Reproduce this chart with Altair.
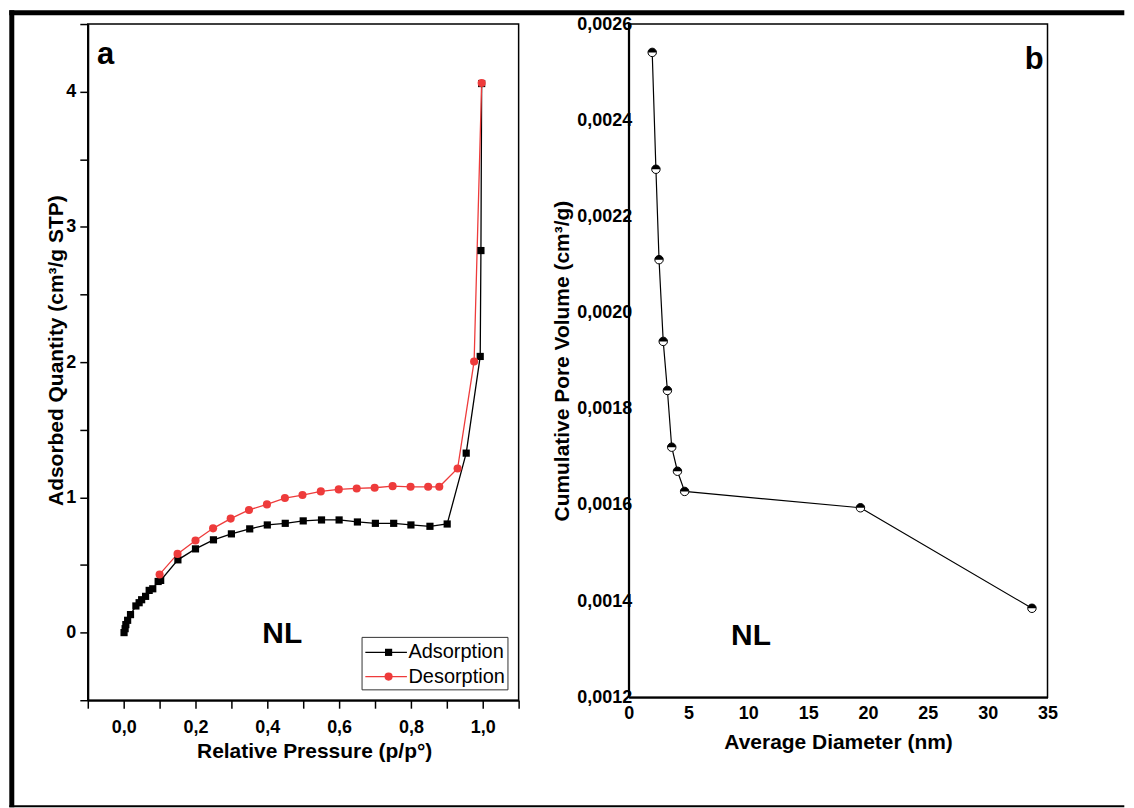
import altair as alt
import pandas as pd

FONT = "Liberation Sans"

# ---------------- Panel a : N2 isotherm ----------------
ads_x = [0.001, 0.004, 0.006, 0.011, 0.019, 0.034, 0.043, 0.050, 0.061, 0.071, 0.081, 0.096, 0.103,
         0.151, 0.200, 0.250, 0.300, 0.351, 0.400, 0.450, 0.500, 0.551, 0.600, 0.651, 0.701, 0.752,
         0.800, 0.853, 0.901, 0.954, 0.993, 0.995, 0.997]
ads_y = [0.000, 0.029, 0.059, 0.091, 0.133, 0.197, 0.221, 0.243, 0.268, 0.312, 0.324, 0.378, 0.386,
         0.538, 0.619, 0.686, 0.730, 0.767, 0.796, 0.808, 0.826, 0.833, 0.833, 0.818, 0.808, 0.808,
         0.796, 0.786, 0.803, 1.327, 2.042, 2.825, 4.060]
des_x = [0.100, 0.150, 0.200, 0.249, 0.298, 0.349, 0.399, 0.449, 0.498, 0.549, 0.599, 0.649, 0.699,
         0.749, 0.799, 0.848, 0.879, 0.930, 0.976, 0.997]
des_y = [0.430, 0.582, 0.681, 0.771, 0.843, 0.907, 0.948, 0.995, 1.017, 1.044, 1.059, 1.066, 1.071,
         1.083, 1.078, 1.078, 1.078, 1.213, 2.005, 4.064]
series_names = ["Adsorption", "Desorption"]
series_colors = ["#000000", "#EE3B3B"]
series_shapes = ["square", "circle"]
series_sizes = [52, 66]

x_ticks_a = [-0.1, 0.0, 0.1, 0.2, 0.3, 0.4, 0.5, 0.6, 0.7, 0.8, 0.9, 1.0, 1.1]
y_ticks_a = [-0.5, 0, 0.5, 1, 1.5, 2, 2.5, 3, 3.5, 4, 4.5]

# ---------------- Panel b : cumulative pore volume ----------------
diam = [1.97, 2.28, 2.54, 2.89, 3.24, 3.60, 4.08, 4.68, 19.37, 33.7]
vol = [0.002541, 0.002298, 0.002110, 0.001940, 0.001838, 0.001720, 0.001670, 0.001628, 0.001594, 0.001385]
x_ticks_b = [0, 5, 10, 15, 20, 25, 30, 35]
y_ticks_b = [0.0012, 0.0014, 0.0016, 0.0018, 0.0020, 0.0022, 0.0024, 0.0026]

W_A, H_A = 432, 678
W_B, H_B = 420, 675

iso = pd.DataFrame({
    "p": ads_x + des_x,
    "q": ads_y + des_y,
    "series": [series_names[0]] * len(ads_x) + [series_names[1]] * len(des_x),
})
one = pd.DataFrame({"k": [0]})

color_scale = alt.Scale(domain=series_names, range=series_colors)
shape_scale = alt.Scale(domain=series_names, range=series_shapes)
size_scale = alt.Scale(domain=series_names, range=series_sizes)

xa = alt.X("p:Q", scale=alt.Scale(domain=[-0.1, 1.1], nice=False, zero=False),
           axis=alt.Axis(values=x_ticks_a,
                         labelExpr="abs(round(datum.value*10)) % 2 == 0 && datum.value > -0.05 && datum.value < 1.05 ? replace(format(datum.value, '.1f'), '.', ',') : ''",
                         title="Relative Pressure (p/p°)", tickSize=8, labelPadding=10,
                         titlePadding=4, titleX=227))
ya = alt.Y("q:Q", scale=alt.Scale(domain=[-0.5, 4.5], nice=False, zero=False),
           axis=alt.Axis(values=y_ticks_a,
                         labelExpr="datum.value % 1 == 0 ? format(datum.value, 'd') : ''",
                         title="Adsorbed Quantity (cm³/g STP)", tickSize=8, labelPadding=4,
                         titlePadding=-1, titleY=327))

col = alt.Color("series:N", scale=color_scale, legend=None)
shp = alt.Shape("series:N", scale=shape_scale, legend=None)
siz = alt.Size("series:N", scale=size_scale, legend=None)

iso_line = alt.Chart(iso).mark_line(strokeWidth=1.3).encode(x=xa, y=ya, color=col)
iso_pts = alt.Chart(iso).mark_point(filled=True, opacity=1).encode(x=xa, y=ya, color=col, shape=shp, size=siz)
data_layer = alt.layer(iso_line, iso_pts)

leg_df = pd.DataFrame({"series": series_names, "row": [0, 1]})
leg_y = alt.Y("row:Q", scale=alt.Scale(domain=[0, 1], range=[630, 654.3]), axis=None)
leg_box = alt.Chart(one).mark_rect(fill="white", stroke="#333333", strokeWidth=1).encode(
    x=alt.value(275), x2=alt.value(421.3), y=alt.value(615), y2=alt.value(667.6))
leg_line = alt.Chart(leg_df).mark_rule(strokeWidth=1.3).encode(
    x=alt.value(278.3), x2=alt.value(320), y=leg_y, color=col)
leg_pt = alt.Chart(leg_df).mark_point(filled=True, opacity=1).encode(
    x=alt.value(301.6), y=leg_y, color=col, shape=shp, size=siz)
leg_txt = alt.Chart(leg_df).mark_text(align="left", baseline="middle", font=FONT, fontSize=20,
                                       color="black").encode(x=alt.value(321.5), y=leg_y, text="series:N")
legend_layer = alt.layer(leg_box, leg_line, leg_pt, leg_txt)

lab_a = alt.Chart(one).mark_text(text="a", align="left", baseline="alphabetic", font=FONT,
                                  fontSize=31, fontWeight="bold", color="black").encode(
    x=alt.value(9.3), y=alt.value(40.3))
nl_a = alt.Chart(one).mark_text(text="NL", align="center", baseline="alphabetic", font=FONT,
                                 fontSize=30, fontWeight="bold", color="black").encode(
    x=alt.value(195), y=alt.value(620.3))

# outer black frame of the figure (filled bars so that bounds are exact)
frame_top = alt.Chart(one).mark_rect(color="black").encode(
    x=alt.value(-78.7), x2=alt.value(1039.3), y=alt.value(-13.7), y2=alt.value(-8.7))
frame_left = alt.Chart(one).mark_rect(color="black").encode(
    x=alt.value(-78.7), x2=alt.value(-73.7), y=alt.value(-13.7), y2=alt.value(785.3))
frame_bottom = alt.Chart(one).mark_rect(color="black").encode(
    x=alt.value(-78.7), x2=alt.value(1039.3), y=alt.value(783.3), y2=alt.value(785.3))

panel_a = alt.layer(data_layer, legend_layer, lab_a, nl_a, frame_top, frame_left, frame_bottom).resolve_scale(
    y="independent").properties(width=W_A, height=H_A)

# ---------------- Panel b ----------------
pore = pd.DataFrame({"d": diam, "v": vol})
xb = alt.X("d:Q", scale=alt.Scale(domain=[0, 35], nice=False, zero=False),
           axis=alt.Axis(values=x_ticks_b, format="d", title="Average Diameter (nm)", ticks=False,
                         labelPadding=7, titlePadding=9))
yb = alt.Y("v:Q", scale=alt.Scale(domain=[0.0012, 0.0026], nice=False, zero=False),
           axis=alt.Axis(values=y_ticks_b, labelExpr="replace(format(datum.value, '.4f'), '.', ',')",
                         title="Cumulative Pore Volume (cm³/g)", ticks=False, labelPadding=-3,
                         titlePadding=4))

HALF_TOP = "M-1,0A1,1,0,0,1,1,0Z"
pore_line = alt.Chart(pore).mark_line(color="black", strokeWidth=1.2).encode(x=xb, y=yb)
pore_pts = alt.Chart(pore).mark_point(shape="circle", filled=True, fill="white", stroke="black",
                                      strokeWidth=1, size=72, opacity=1).encode(x=xb, y=yb)
pore_half = alt.Chart(pore).mark_point(shape=HALF_TOP, filled=True, fill="black", strokeWidth=0,
                                       size=72, opacity=1).encode(x=xb, y=yb)
lab_b = alt.Chart(one).mark_text(text="b", align="right", baseline="alphabetic", font=FONT,
                                  fontSize=31, fontWeight="bold", color="black").encode(
    x=alt.value(416), y=alt.value(45))
nl_b = alt.Chart(one).mark_text(text="NL", align="center", baseline="alphabetic", font=FONT,
                                 fontSize=30, fontWeight="bold", color="black").encode(
    x=alt.value(122.7), y=alt.value(622.3))

panel_b = alt.layer(pore_line, pore_pts, pore_half, lab_b, nl_b).properties(width=W_B, height=H_B)

chart = alt.hconcat(panel_a, panel_b, spacing=110.3, bounds="flush").properties(
    padding=0, background="white"
).configure_view(
    stroke="black", strokeWidth=1.5
).configure_axis(
    grid=False, domainColor="black", domainWidth=2, tickColor="black", tickWidth=1.5,
    labelFont=FONT, labelFontSize=18, labelFontWeight="bold", labelColor="black",
    labelFlush=False, labelOverlap=False,
    titleFont=FONT, titleFontSize=21, titleFontWeight="bold", titleColor="black"
)

chart.save("out.html", embed_options={"renderer": "svg", "actions": False})
